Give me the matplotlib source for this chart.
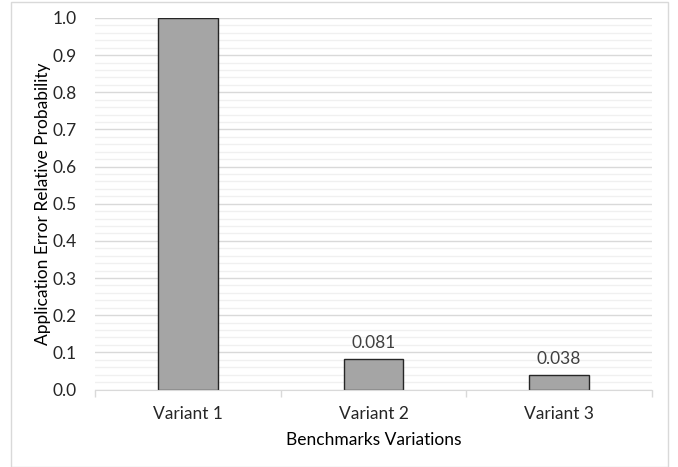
import numpy as np
import matplotlib.pyplot as plt
from matplotlib.patches import Rectangle
from matplotlib.ticker import MultipleLocator

categories = ["Variant 1", "Variant 2", "Variant 3"]
values = [1.0, 0.081, 0.038]
bar_labels = [None, "0.081", "0.038"]

plt.rcParams['font.family'] = ['Lato', 'DejaVu Sans']
fs = 12.5

fig = plt.figure(figsize=(6.78, 4.67), dpi=100)
ax = fig.add_axes([95 / 678, 1 - 389.5 / 467, (652 - 95) / 678, (389.5 - 18) / 467])

x = np.arange(len(categories))
ax.bar(x, values, width=0.32, color='#a5a5a5', edgecolor='#262626', linewidth=1.0, zorder=3)

for xi, v, lab in zip(x, values, bar_labels):
    if lab:
        ax.annotate(lab, (xi, v), xytext=(0, 6), textcoords='offset points',
                    ha='center', va='bottom', fontsize=fs, color='#404040')

ax.set_xlim(-0.5, 2.5)
ax.set_ylim(0, 1.0)
ax.yaxis.set_major_locator(MultipleLocator(0.1))
ax.yaxis.set_minor_locator(MultipleLocator(0.02))
ax.yaxis.set_major_formatter(plt.FuncFormatter(lambda v, p: f"{v:.1f}"))
ax.grid(axis='y', which='major', color='#d9d9d9', linewidth=1.0, zorder=0)
ax.grid(axis='y', which='minor', color='#f0f0f0', linewidth=1.0, zorder=0)

ax.set_xticks(x)
ax.set_xticklabels(categories)
ax.set_xticks([-0.5, 0.5, 1.5, 2.5], minor=True)
ax.tick_params(axis='x', which='major', length=0, pad=12, labelsize=fs, colors='#262626')
ax.tick_params(axis='x', which='minor', length=5, color='#d9d9d9', width=1)
ax.tick_params(axis='y', which='both', length=0, pad=13, labelsize=fs, colors='#262626')

for side in ['top', 'right', 'left']:
    ax.spines[side].set_visible(False)
ax.spines['bottom'].set_color('#d9d9d9')
ax.spines['bottom'].set_zorder(4)

ax.set_ylabel("Application Error Relative Probability", fontsize=fs, color='#000000', labelpad=1)
ax.set_xlabel("Benchmarks Variations", fontsize=fs, color='#000000', labelpad=7)

fig.patches.append(Rectangle((11 / 678, 0), (668 - 11) / 678, 1 - 2 / 467, transform=fig.transFigure,
                             fill=False, edgecolor='#d9d9d9', linewidth=1.0))

fig.savefig("out.png", dpi=100)
